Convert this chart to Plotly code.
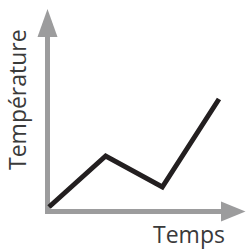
import plotly.graph_objects as go

# Data (arbitrary units)
times = [0, 1, 2, 3]
temperatures = [0, 5.1, 2.0, 10.8]
x_label = "Temps"
y_label = "Température"

W, H = 246, 251
GRAY = "#9c9c9d"
INK = "#231f20"

def px(x):
    return x / W

def py(y):
    return 1 - y / H

fig = go.Figure()
fig.add_trace(go.Scatter(
    x=times, y=temperatures, mode="lines",
    line=dict(color=INK, width=5), hoverinfo="skip", showlegend=False,
))

# x: 0 -> px 49, 3 -> px 219 ; y: 0 -> px 207, 10 px per unit
sx = (219 - 49) / 3
sy = 10.0
fig.update_xaxes(range=[-49 / sx, (W - 49) / sx], visible=False, fixedrange=True)
fig.update_yaxes(range=[-(H - 207) / sy, 207 / sy], visible=False, fixedrange=True)

shapes = [
    dict(type="line", xref="paper", yref="paper", x0=px(47.5), x1=px(47.5),
         y0=py(214), y1=py(35), line=dict(color=GRAY, width=5), layer="below"),
    dict(type="path", xref="paper", yref="paper",
         path=f"M {px(47.5)},{py(9)} L {px(37.5)},{py(37)} L {px(57.5)},{py(37)} Z",
         fillcolor=GRAY, line=dict(width=0), layer="below"),
    dict(type="line", xref="paper", yref="paper", x0=px(45), x1=px(223),
         y0=py(211.5), y1=py(211.5), line=dict(color=GRAY, width=5), layer="below"),
    dict(type="path", xref="paper", yref="paper",
         path=f"M {px(245.5)},{py(211.5)} L {px(221)},{py(201.5)} L {px(221)},{py(221.5)} Z",
         fillcolor=GRAY, line=dict(width=0), layer="below"),
]

annotations = [
    dict(text=x_label, xref="paper", yref="paper", x=px(188.5), y=py(234),
         xanchor="center", yanchor="middle", showarrow=False,
         font=dict(family="Open Sans", size=23, color="#3a3a3a")),
    dict(text=y_label, xref="paper", yref="paper", x=px(17), y=py(100),
         xanchor="center", yanchor="middle", showarrow=False, textangle=-90,
         font=dict(family="Open Sans", size=23, color="#3a3a3a")),
]

fig.update_layout(
    width=W, height=H, margin=dict(l=0, r=0, t=0, b=0),
    paper_bgcolor="white", plot_bgcolor="white",
    shapes=shapes, annotations=annotations, showlegend=False,
)

fig.write_html("out.html", config={"displayModeBar": False},
               post_script="document.body.style.margin='0';document.body.style.overflow='hidden';")
